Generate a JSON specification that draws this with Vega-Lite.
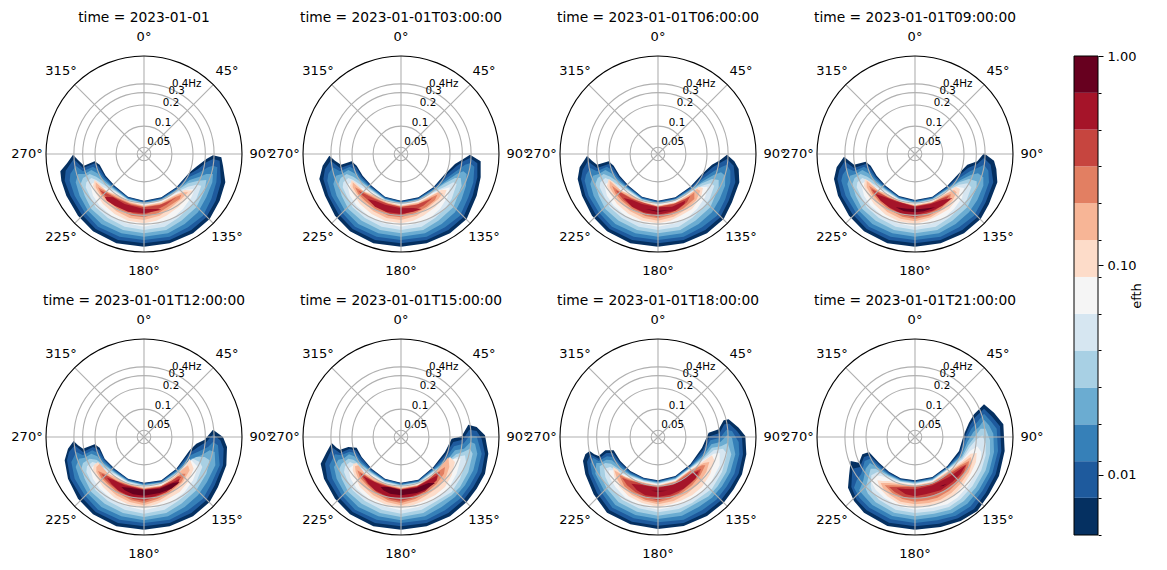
{"$schema":"https://vega.github.io/schema/vega-lite/v6.json","padding":{"left":11,"top":7,"right":0,"bottom":0},"spacing":29,"hconcat":[{"data":{"name":"contours","values":[
{"p":0,"l":0,"v":[[70,42],[85,58],[103,75],[135,62],[150,72],[168,105],[195,135],[235,168],[283,180],[335,170],[380,140],[420,95],[440,78],[470,55],[490,44],[515,50],[520,75],[527,125],[510,180],[480,235],[430,278],[360,308],[283,318],[200,308],[130,272],[85,225],[50,165],[35,120],[32,92],[52,68]]},
{"p":0,"l":1,"v":[[72,55],[100,82],[135,68],[148,78],[166,108],[195,138],[235,170],[283,182],[335,172],[380,142],[420,100],[445,85],[470,65],[490,55],[510,60],[514,125],[498,180],[470,230],[425,268],[360,298],[283,308],[205,298],[138,265],[95,220],[62,165],[45,120],[48,90]]},
{"p":0,"l":2,"v":[[78,75],[100,92],[130,78],[145,88],[164,112],[195,141],[235,172],[283,184],[335,174],[380,145],[420,108],[450,95],[475,80],[490,75],[503,80],[500,125],[485,175],[460,225],[415,260],[360,288],[283,298],[210,288],[145,258],[105,215],[75,165],[60,120],[62,100]]},
{"p":0,"l":3,"v":[[85,100],[105,100],[125,88],[143,98],[162,117],[195,144],[235,174],[283,186],[335,176],[380,148],[420,118],[450,108],[470,100],[490,100],[488,125],[470,170],[445,215],[405,250],[355,278],[283,288],[215,278],[155,250],[115,210],[90,165],[78,125]]},
{"p":0,"l":4,"v":[[100,112],[120,100],[140,108],[160,122],[195,147],[235,176],[283,188],[335,178],[380,151],[415,128],[445,120],[470,118],[465,150],[440,200],[395,240],[350,268],[283,278],[220,268],[165,240],[125,205],[105,165],[93,130]]},
{"p":0,"l":5,"v":[[110,125],[125,112],[140,118],[158,130],[195,150],[235,178],[283,190],[335,180],[380,154],[415,138],[440,132],[455,135],[440,175],[415,205],[385,232],[345,258],[283,268],[225,258],[175,232],[138,200],[120,165],[108,140]]},
{"p":0,"l":6,"v":[[122,132],[135,124],[155,138],[195,153],[235,180],[283,192],[335,182],[380,157],[410,147],[435,145],[425,170],[400,205],[370,232],[335,248],[283,258],[230,248],[185,225],[150,195],[130,165]]},
{"p":0,"l":7,"v":[[135,118],[150,130],[170,150],[200,160],[240,182],[283,194],[335,184],[380,160],[405,148],[430,150],[410,175],[385,200],[350,225],[320,240],[283,248],[235,240],[195,220],[160,190],[140,160],[130,135]]},
{"p":0,"l":8,"v":[[138,125],[155,140],[175,155],[205,165],[240,185],[283,196],[335,186],[375,165],[400,155],[415,155],[395,175],[365,200],[330,225],[283,238],[240,232],[200,212],[170,185],[150,160],[138,140]]},
{"p":0,"l":9,"v":[[145,140],[165,150],[200,170],[240,188],[283,198],[335,190],[375,170],[395,162],[390,175],[360,195],[325,218],[283,230],[245,225],[205,205],[175,180],[155,160]]},
{"p":0,"l":10,"v":[[150,148],[175,160],[205,175],[245,192],[283,200],[330,193],[365,178],[380,170],[350,192],[320,208],[283,222],[250,218],[210,200],[180,175],[160,160]]},
{"p":0,"l":11,"v":[[165,168],[190,170],[225,190],[283,205],[325,205],[335,207],[315,212],[283,218],[235,213],[195,195],[172,180]]},

{"p":1,"l":0,"v":[[68,45],[85,60],[103,72],[135,62],[150,75],[168,105],[195,135],[235,168],[283,180],[335,170],[380,140],[415,100],[445,70],[470,55],[490,42],[522,62],[522,110],[510,165],[480,235],[430,278],[360,308],[283,318],[200,308],[130,272],[85,225],[55,165],[38,115],[48,75]]},
{"p":1,"l":1,"v":[[72,60],[100,82],[135,70],[148,80],[166,108],[195,138],[235,170],[283,182],[335,172],[380,142],[417,105],[447,78],[470,62],[490,52],[512,68],[512,110],[498,165],[470,230],[425,268],[360,298],[283,308],[205,298],[138,265],[95,220],[65,165],[50,115],[55,85]]},
{"p":1,"l":2,"v":[[78,80],[100,92],[130,78],[145,88],[164,112],[195,141],[235,172],[283,184],[335,174],[380,145],[420,112],[450,90],[475,72],[490,68],[503,78],[500,125],[485,170],[460,225],[415,260],[360,288],[283,298],[210,288],[145,258],[105,215],[75,165],[62,120],[65,100]]},
{"p":1,"l":3,"v":[[88,105],[105,100],[125,88],[143,98],[162,117],[195,144],[235,174],[283,186],[335,176],[380,148],[420,120],[450,100],[470,92],[480,100],[478,135],[465,175],[445,215],[405,250],[355,278],[283,288],[215,278],[155,250],[115,210],[90,165],[80,130]]},
{"p":1,"l":4,"v":[[102,112],[120,100],[140,108],[160,122],[195,147],[235,176],[283,188],[335,178],[380,151],[415,128],[445,112],[462,112],[465,135],[440,200],[395,240],[350,268],[283,278],[220,268],[165,240],[125,205],[105,165],[95,130]]},
{"p":1,"l":5,"v":[[110,125],[125,112],[140,118],[158,130],[195,150],[235,178],[283,190],[335,180],[380,154],[415,138],[440,125],[450,130],[435,175],[415,205],[385,232],[345,258],[283,268],[225,258],[175,232],[138,200],[120,165],[108,140]]},
{"p":1,"l":6,"v":[[122,132],[135,124],[155,138],[195,153],[235,180],[283,192],[335,182],[380,157],[410,145],[430,140],[422,170],[400,205],[370,232],[335,248],[283,258],[230,248],[185,225],[150,195],[130,165]]},
{"p":1,"l":7,"v":[[135,118],[150,130],[170,150],[200,160],[240,182],[283,194],[335,184],[380,160],[405,147],[420,148],[410,175],[385,200],[350,225],[320,240],[283,248],[235,240],[195,220],[160,190],[140,160],[130,135]]},
{"p":1,"l":8,"v":[[138,125],[155,140],[175,155],[205,165],[240,185],[283,196],[335,186],[375,165],[395,155],[408,158],[395,175],[365,200],[330,225],[283,238],[240,232],[200,212],[170,185],[150,160],[138,140]]},
{"p":1,"l":9,"v":[[145,140],[165,150],[200,170],[240,188],[283,198],[335,190],[375,170],[392,162],[385,178],[360,198],[325,218],[283,230],[245,225],[205,205],[175,180],[155,160]]},
{"p":1,"l":10,"v":[[155,150],[175,160],[205,175],[245,190],[283,199],[330,192],[365,178],[378,172],[350,195],[320,210],[283,224],[250,220],[210,200],[180,175],[165,162]]},
{"p":1,"l":11,"v":[[183,176],[205,180],[235,192],[283,203],[320,202],[345,205],[320,213],[283,220],[240,214],[205,198]]},

{"p":2,"l":0,"v":[[70,46],[85,60],[100,72],[135,62],[150,75],[168,105],[195,135],[235,168],[283,180],[335,170],[380,138],[415,100],[445,72],[470,58],[490,42],[512,62],[525,85],[527,125],[505,185],[480,235],[430,278],[360,308],[283,318],[200,308],[130,272],[85,225],[55,165],[42,115],[48,80]]},
{"p":2,"l":1,"v":[[72,62],[100,82],[135,70],[148,80],[166,108],[195,138],[235,170],[283,182],[335,172],[380,141],[417,105],[447,80],[470,66],[490,55],[510,75],[515,125],[495,180],[470,230],[425,268],[360,298],[283,308],[205,298],[138,265],[95,220],[65,165],[52,115],[57,88]]},
{"p":2,"l":2,"v":[[80,82],[100,92],[130,78],[145,88],[164,112],[195,141],[235,172],[283,184],[335,174],[380,144],[420,112],[450,92],[475,78],[490,72],[500,90],[500,125],[485,175],[460,225],[415,260],[360,288],[283,298],[210,288],[145,258],[105,215],[75,165],[63,120],[67,102]]},
{"p":2,"l":3,"v":[[88,105],[105,100],[125,88],[143,98],[162,117],[195,144],[235,174],[283,186],[335,176],[380,147],[420,120],[450,103],[472,95],[485,105],[484,135],[468,175],[445,215],[405,250],[355,278],[283,288],[215,278],[155,250],[115,210],[90,165],[80,130]]},
{"p":2,"l":4,"v":[[102,112],[120,100],[140,108],[160,122],[195,147],[235,176],[283,188],[335,178],[380,150],[415,128],[445,115],[465,118],[465,140],[440,200],[395,240],[350,268],[283,278],[220,268],[165,240],[125,205],[105,165],[95,130]]},
{"p":2,"l":5,"v":[[110,125],[125,112],[140,118],[158,130],[195,150],[235,178],[283,190],[335,180],[380,153],[415,135],[440,128],[452,135],[438,175],[415,205],[385,232],[345,258],[283,268],[225,258],[175,232],[138,200],[120,165],[108,140]]},
{"p":2,"l":6,"v":[[122,132],[135,124],[155,138],[195,153],[235,180],[283,192],[335,182],[380,156],[410,140],[432,138],[424,170],[400,205],[370,232],[335,248],[283,258],[230,248],[185,225],[150,195],[130,165]]},
{"p":2,"l":7,"v":[[135,115],[150,125],[170,148],[200,160],[240,182],[283,194],[335,184],[380,158],[405,138],[418,142],[412,170],[385,205],[350,225],[320,240],[283,248],[235,240],[195,220],[160,190],[140,160],[130,135]]},
{"p":2,"l":8,"v":[[138,120],[155,135],[175,152],[205,165],[240,185],[283,196],[335,186],[375,163],[400,145],[410,150],[398,178],[370,205],[330,228],[283,240],[240,232],[200,212],[170,185],[150,160],[138,140]]},
{"p":2,"l":9,"v":[[145,135],[165,150],[200,170],[240,188],[283,198],[335,188],[375,168],[392,155],[392,175],[360,203],[325,222],[283,233],[245,226],[205,205],[175,180],[155,158]]},
{"p":2,"l":10,"v":[[155,148],[175,158],[205,175],[245,188],[283,198],[330,190],[365,175],[380,165],[370,185],[345,205],[318,218],[283,228],[250,222],[210,202],[180,178],[165,160]]},
{"p":2,"l":11,"v":[[180,172],[205,178],[235,190],[283,200],[325,198],[365,180],[362,190],[335,210],[283,222],[240,215],[205,198]]},
{"p":2,"l":12,"v":[[245,205],[283,210],[320,208],[283,214]]},

{"p":3,"l":0,"v":[[70,48],[85,60],[100,72],[135,63],[150,75],[168,105],[195,135],[235,166],[283,178],[335,168],[380,135],[415,98],[440,72],[470,62],[490,38],[520,60],[527,85],[530,125],[505,190],[480,235],[430,278],[360,308],[283,318],[200,308],[130,272],[85,225],[52,165],[40,115],[48,80]]},
{"p":3,"l":1,"v":[[72,62],[100,82],[135,70],[148,80],[166,108],[195,138],[235,168],[283,180],[335,170],[380,138],[417,103],[442,82],[470,70],[490,52],[510,72],[518,125],[495,185],[470,230],[425,268],[360,298],[283,308],[205,298],[138,265],[95,220],[62,165],[50,115],[56,88]]},
{"p":3,"l":2,"v":[[80,82],[100,92],[130,78],[145,88],[164,112],[195,141],[235,170],[283,182],[335,172],[380,141],[420,110],[448,92],[475,80],[490,72],[503,90],[505,125],[485,180],[460,225],[415,260],[360,288],[283,298],[210,288],[145,258],[105,215],[75,165],[62,120],[66,102]]},
{"p":3,"l":3,"v":[[88,105],[105,100],[125,88],[143,98],[162,117],[195,144],[235,172],[283,184],[335,174],[380,144],[420,118],[450,103],[472,98],[488,110],[488,135],[470,178],[445,215],[405,250],[355,278],[283,288],[215,278],[155,250],[115,210],[90,165],[80,130]]},
{"p":3,"l":4,"v":[[102,112],[120,100],[140,108],[160,122],[195,147],[235,174],[283,186],[335,176],[380,147],[415,125],[445,115],[468,122],[468,142],[440,200],[395,240],[350,268],[283,278],[220,268],[165,240],[125,205],[105,165],[95,130]]},
{"p":3,"l":5,"v":[[110,125],[125,112],[140,118],[158,130],[195,150],[235,176],[283,188],[335,178],[380,150],[415,132],[440,128],[452,140],[438,178],[415,205],[385,232],[345,258],[283,268],[225,258],[175,232],[138,200],[120,165],[108,140]]},
{"p":3,"l":6,"v":[[122,130],[135,122],[155,136],[195,153],[235,178],[283,190],[335,180],[380,153],[408,138],[430,142],[424,172],[400,205],[370,232],[335,248],[283,258],[230,248],[185,225],[150,195],[130,165]]},
{"p":3,"l":7,"v":[[133,115],[150,125],[170,148],[200,160],[240,180],[283,192],[335,182],[380,155],[405,138],[418,145],[412,172],[385,205],[350,225],[320,240],[283,250],[235,242],[195,222],[160,190],[140,160],[130,135]]},
{"p":3,"l":8,"v":[[138,120],[155,135],[175,150],[205,163],[240,183],[283,194],[335,184],[375,160],[400,148],[408,155],[395,180],[370,205],[330,230],[283,242],[240,234],[200,214],[170,186],[150,160],[138,140]]},
{"p":3,"l":9,"v":[[145,135],[165,148],[200,168],[240,186],[283,196],[335,186],[375,165],[390,160],[388,178],[360,205],[325,225],[283,235],[245,228],[205,207],[175,182],[155,158]]},
{"p":3,"l":10,"v":[[152,145],[175,156],[205,172],[245,186],[283,197],[330,188],[365,173],[385,165],[370,188],[345,208],[318,220],[283,230],[250,224],[210,204],[178,178],[162,160]]},
{"p":3,"l":11,"v":[[165,160],[190,168],[225,182],[283,198],[330,190],[365,178],[395,172],[365,195],[335,210],[283,224],[240,218],[205,200],[180,180]]},
{"p":3,"l":12,"v":[[225,200],[260,204],[300,205],[345,200],[310,212],[283,215],[250,212]]},

{"p":4,"l":0,"v":[[72,52],[85,65],[100,75],[135,62],[150,72],[165,105],[195,135],[235,165],[283,177],[335,170],[380,135],[420,80],[440,60],[465,48],[490,18],[520,40],[532,70],[530,125],[505,190],[480,235],[430,278],[360,308],[283,318],[200,308],[130,272],[85,225],[55,165],[45,110],[55,75]]},
{"p":4,"l":1,"v":[[75,65],[100,85],[130,70],[148,78],[165,108],[195,138],[235,167],[283,179],[335,172],[380,138],[420,88],[445,70],[470,55],[490,32],[512,50],[522,75],[520,125],[495,185],[470,230],[425,268],[360,298],[283,308],[205,298],[138,265],[95,220],[62,165],[52,110],[58,85]]},
{"p":4,"l":2,"v":[[80,85],[100,95],[128,80],[145,88],[163,112],[195,141],[235,169],[283,181],[335,174],[380,141],[422,95],[450,82],[475,70],[490,55],[505,65],[510,125],[485,180],[460,225],[415,260],[360,288],[283,298],[210,288],[145,258],[105,215],[75,165],[65,115]]},
{"p":4,"l":3,"v":[[88,105],[105,102],[125,90],[143,98],[161,117],[195,144],[235,171],[283,183],[335,176],[380,144],[425,105],[455,95],[480,80],[495,85],[497,125],[472,175],[445,215],[405,250],[355,278],[283,290],[215,278],[155,250],[115,210],[90,165],[78,130]]},
{"p":4,"l":4,"v":[[100,118],[120,105],[140,108],[160,122],[195,147],[235,173],[283,185],[335,178],[380,147],[420,112],[440,100],[465,100],[480,110],[470,150],[440,200],[395,240],[350,268],[283,280],[220,268],[165,240],[125,205],[105,165],[95,135]]},
{"p":4,"l":5,"v":[[112,128],[128,115],[140,118],[158,130],[195,150],[235,175],[283,187],[335,180],[380,150],[415,115],[430,105],[450,115],[458,130],[440,175],[415,208],[385,232],[345,258],[283,270],[225,258],[175,232],[138,200],[120,165],[110,145]]},
{"p":4,"l":6,"v":[[122,135],[135,124],[155,138],[195,153],[235,177],[283,189],[335,182],[380,153],[410,125],[425,110],[445,130],[430,170],[405,205],[370,232],[335,248],[283,260],[230,248],[185,225],[150,195],[130,165]]},
{"p":4,"l":7,"v":[[132,125],[145,115],[170,145],[200,160],[240,180],[283,191],[335,184],[380,155],[405,130],[420,105],[432,135],[415,175],[390,205],[350,228],[320,242],[283,252],[235,242],[195,222],[160,190],[140,160],[130,140]]},
{"p":4,"l":8,"v":[[140,130],[150,120],[175,150],[205,165],[240,182],[283,193],[335,186],[375,160],[400,135],[415,125],[420,140],[400,175],[370,205],[330,230],[283,245],[240,235],[200,215],[170,188],[150,162],[140,145]]},
{"p":4,"l":9,"v":[[145,142],[165,150],[200,170],[240,185],[283,195],[335,188],[375,165],[395,150],[408,150],[395,175],[360,205],[325,225],[283,238],[245,230],[205,208],[175,182],[155,162]]},
{"p":4,"l":10,"v":[[155,150],[175,158],[205,175],[245,188],[283,197],[330,190],[365,172],[385,158],[395,160],[375,185],[350,205],[320,220],[283,232],[250,226],[210,205],[180,180],[165,165]]},
{"p":4,"l":11,"v":[[172,162],[190,168],[225,185],[283,198],[330,192],[370,175],[390,165],[385,180],[350,205],[315,218],[283,225],[240,218],[205,200],[185,180]]},
{"p":4,"l":12,"v":[[215,190],[240,192],[283,199],[330,195],[370,178],[390,175],[365,195],[330,208],[283,216],[250,212],[225,200]]},

{"p":5,"l":0,"v":[[75,58],[90,72],[100,78],[125,70],[150,72],[165,100],[195,135],[235,165],[283,177],[335,168],[380,130],[415,85],[435,45],[465,38],[485,3],[510,10],[535,35],[545,90],[535,150],[510,195],[480,235],[430,278],[360,308],[283,318],[200,308],[130,272],[85,225],[52,165],[42,120],[60,85]]},
{"p":5,"l":1,"v":[[78,72],[100,88],[128,76],[147,80],[165,104],[195,138],[235,167],[283,179],[335,170],[380,133],[417,92],[440,55],[468,48],[488,18],[510,22],[525,45],[535,90],[525,145],[500,190],[470,230],[425,268],[360,298],[283,308],[205,298],[138,265],[95,220],[62,165],[55,120],[68,92]]},
{"p":5,"l":2,"v":[[85,92],[103,95],[128,84],[145,88],[163,112],[195,141],[235,169],[283,181],[335,172],[380,136],[420,100],[442,68],[470,60],[490,35],[510,38],[525,90],[512,145],[490,185],[460,225],[415,260],[360,288],[283,298],[210,288],[145,258],[105,215],[77,165],[68,125]]},
{"p":5,"l":3,"v":[[95,108],[110,105],[127,92],[143,98],[161,117],[195,144],[235,171],[283,183],[335,174],[380,139],[422,108],[445,80],[472,75],[492,55],[505,60],[512,90],[500,140],[475,185],[445,220],[405,250],[355,278],[283,290],[215,278],[155,250],[115,210],[90,165],[82,130]]},
{"p":5,"l":4,"v":[[105,120],[125,105],[140,108],[160,122],[195,147],[235,173],[283,185],[335,176],[380,142],[425,112],[448,92],[470,85],[490,75],[498,90],[485,145],[460,190],[435,215],[395,240],[350,268],[283,280],[220,268],[165,240],[125,205],[105,165],[98,135]]},
{"p":5,"l":5,"v":[[115,128],[130,115],[142,120],[158,130],[195,150],[235,175],[283,187],[335,178],[380,145],[425,115],[450,100],[475,95],[478,115],[460,165],[435,205],[385,235],[345,258],[283,270],[225,258],[175,232],[138,200],[120,165],[112,145]]},
{"p":5,"l":6,"v":[[125,135],[140,125],[155,138],[195,153],[235,177],[283,189],[335,180],[380,148],[420,115],[445,105],[462,105],[450,150],[425,195],[380,230],[335,250],[283,260],[230,248],[185,225],[150,195],[132,165]]},
{"p":5,"l":7,"v":[[140,120],[150,118],[170,145],[200,160],[240,180],[283,191],[335,182],[380,150],[415,115],[430,100],[445,115],[435,155],[415,190],[385,215],[350,232],[320,244],[283,252],[235,242],[195,222],[160,190],[145,160],[138,140]]},
{"p":5,"l":8,"v":[[145,128],[155,125],[175,150],[205,165],[240,182],[283,193],[335,184],[375,155],[405,125],[425,100],[428,130],[418,160],[395,190],[360,215],[330,232],[283,245],[240,235],[200,215],[170,188],[155,165],[147,145]]},
{"p":5,"l":9,"v":[[152,140],[170,150],[200,170],[240,185],[283,195],[335,186],[375,160],[400,140],[415,130],[412,150],[390,180],[355,210],[325,226],[283,238],[245,230],[205,208],[178,182],[160,162]]},
{"p":5,"l":10,"v":[[160,148],[178,158],[205,175],[245,188],[283,197],[330,188],[365,168],[385,150],[400,145],[390,170],[355,203],[320,222],[283,232],[250,226],[210,205],[182,180],[168,162]]},
{"p":5,"l":11,"v":[[170,158],[190,168],[225,185],[283,198],[330,190],[365,170],[392,155],[390,170],[355,203],[315,218],[283,225],[240,218],[205,200],[185,180]]},
{"p":5,"l":12,"v":[[222,190],[245,190],[283,199],[330,192],[365,178],[385,178],[355,198],[330,208],[283,215],[250,210],[230,200]]},

{"p":6,"l":0,"v":[[78,82],[92,92],[105,97],[125,80],[150,80],[170,112],[200,142],[240,162],[283,170],[335,157],[380,122],[415,72],[435,27],[465,17],[480,-10],[495,-13],[525,12],[545,37],[548,92],[535,152],[510,197],[480,237],[430,277],[360,307],[283,316],[200,302],[130,267],[90,212],[65,152],[58,112],[65,92]]},
{"p":6,"l":1,"v":[[80,92],[105,105],[128,88],[148,88],[168,115],[200,145],[240,164],[283,172],[335,159],[380,125],[417,80],[438,38],[468,28],[482,2],[497,0],[520,22],[535,42],[538,92],[525,150],[500,192],[470,232],[425,268],[360,298],[283,306],[205,294],[138,260],[100,208],[75,150],[70,115]]},
{"p":6,"l":2,"v":[[88,102],[105,112],[130,98],[147,100],[166,120],[200,148],[240,166],[283,174],[335,161],[380,128],[420,88],[440,50],[470,42],[488,18],[505,22],[525,55],[527,92],[512,150],[488,190],[458,228],[415,260],[360,288],[283,296],[210,284],[146,252],[110,202],[85,150],[80,120]]},
{"p":6,"l":3,"v":[[98,118],[110,118],[128,108],[145,110],[165,128],[200,152],[240,168],[283,176],[335,163],[380,130],[420,95],[443,62],[470,55],[490,35],[505,42],[515,92],[500,145],[475,188],[445,222],[405,250],[355,276],[283,286],[215,274],[155,244],[120,198],[95,150]]},
{"p":6,"l":4,"v":[[108,128],[125,118],[142,120],[165,135],[200,155],[240,170],[283,178],[335,165],[380,132],[420,100],[445,72],[472,68],[492,58],[503,92],[488,145],[462,188],[435,218],[395,240],[350,266],[283,276],[220,264],[165,236],[130,195],[110,155]]},
{"p":6,"l":5,"v":[[122,135],[140,130],[160,142],[200,158],[240,172],[283,180],[335,167],[380,134],[420,105],[450,80],[478,75],[490,90],[475,145],[445,195],[385,238],[345,256],[283,266],[225,254],[175,228],[140,190],[125,160]]},
{"p":6,"l":6,"v":[[135,140],[152,140],[175,152],[205,162],[240,174],[283,182],[335,169],[380,136],[420,110],[450,90],[468,88],[468,125],[445,170],[415,205],[375,232],[335,248],[283,258],[230,246],[185,222],[155,190],[140,165]]},
{"p":6,"l":7,"v":[[148,130],[162,138],[175,155],[205,165],[240,176],[283,184],[335,171],[380,138],[420,112],[445,95],[452,110],[440,150],[415,190],[385,215],[350,232],[320,242],[283,250],[235,238],[195,218],[168,190],[152,160]]},
{"p":6,"l":8,"v":[[152,140],[170,150],[185,160],[210,168],[245,178],[283,186],[335,173],[380,140],[420,118],[437,115],[428,145],[405,180],[370,210],[330,232],[283,242],[240,232],[205,214],[175,190],[160,165]]},
{"p":6,"l":9,"v":[[165,152],[185,162],[210,172],[245,180],[283,188],[335,175],[380,142],[415,125],[425,125],[410,155],[385,185],[350,212],[320,226],[283,236],[245,228],[210,210],[182,188]]},
{"p":6,"l":10,"v":[[175,162],[195,170],[220,176],[250,183],[283,190],[335,178],[380,148],[412,135],[405,155],[380,180],[345,208],[318,220],[283,230],[250,222],[215,205],[190,185]]},
{"p":6,"l":11,"v":[[203,180],[230,183],[283,192],[330,183],[375,155],[405,142],[395,165],[360,195],[320,213],[283,220],[245,215],[220,200]]},
{"p":6,"l":12,"v":[[262,201],[283,201],[312,201],[283,204]]},

{"p":7,"l":0,"v":[[90,112],[115,117],[125,92],[145,85],[175,117],[205,144],[240,164],[283,170],[335,160],[380,127],[415,82],[430,32],[445,-3],[460,-28],[490,-58],[520,-33],[548,2],[552,82],[535,157],[505,212],[470,262],[420,292],[360,310],[283,318],[200,307],[130,267],[100,232],[82,192],[85,157]]},
{"p":7,"l":1,"v":[[95,135],[118,130],[130,100],[147,95],[175,122],[205,147],[240,166],[283,172],[335,162],[380,130],[417,88],[433,38],[448,5],[462,-18],[490,-45],[515,-20],[538,8],[542,82],[525,152],[495,208],[460,256],[412,284],[355,300],[283,308],[205,297],[138,260],[108,228],[92,190]]},
{"p":7,"l":2,"v":[[108,170],[122,150],[132,112],[148,105],[175,128],[205,150],[240,168],[283,174],[335,164],[380,132],[420,92],[436,45],[452,15],[470,-5],[490,-30],[510,-8],[528,15],[532,82],[515,148],[485,202],[450,248],[405,276],[350,290],[283,298],[210,287],[146,252],[116,222],[100,192]]},
{"p":7,"l":3,"v":[[118,195],[128,170],[135,135],[148,118],[175,134],[205,153],[240,170],[283,176],[335,166],[380,134],[422,96],[440,55],[458,25],[475,10],[490,-12],[505,5],[518,30],[520,85],[505,145],[475,198],[440,240],[395,268],[345,280],[283,288],[215,277],[155,244],[128,215],[115,200]]},
{"p":7,"l":4,"v":[[135,195],[142,165],[150,135],[165,135],[205,156],[240,172],[283,178],[335,168],[380,136],[424,100],[443,65],[462,40],[480,15],[495,15],[508,50],[508,90],[495,140],[465,192],[430,232],[390,258],[340,270],[283,278],[220,267],[165,236],[142,210]]},
{"p":7,"l":5,"v":[[150,190],[152,155],[170,145],[205,160],[240,174],[283,180],[335,170],[380,138],[425,105],[446,72],[465,50],[485,35],[495,60],[495,95],[482,140],[455,188],[420,226],[385,250],[340,262],[283,268],[225,258],[175,228],[155,205]]},
{"p":7,"l":6,"v":[[152,175],[165,155],[185,158],[212,168],[240,176],[283,182],[335,172],[380,140],[425,110],[448,82],[470,68],[482,85],[480,110],[465,150],[440,190],[410,222],[380,242],[335,252],[283,258],[232,248],[190,222],[165,198]]},
{"p":7,"l":7,"v":[[170,170],[185,172],[205,172],[240,178],[283,184],[335,174],[380,143],[425,112],[450,90],[468,88],[466,115],[450,150],[428,185],[400,215],[370,235],[330,244],[283,250],[235,240],[200,218],[178,195]]},
{"p":7,"l":8,"v":[[180,178],[205,178],[240,182],[283,186],[335,176],[380,146],[425,118],[450,100],[455,115],[445,145],[420,180],[392,208],[360,228],[325,238],[283,242],[240,234],[208,214],[188,195]]},
{"p":7,"l":9,"v":[[192,185],[215,185],[245,186],[283,188],[335,178],[380,150],[420,125],[445,112],[442,135],[418,170],[385,202],[350,222],[320,230],[283,234],[245,226],[215,208]]},
{"p":7,"l":10,"v":[[205,190],[230,190],[283,191],[335,180],[380,155],[420,130],[438,122],[430,145],[405,175],[375,198],[340,215],[283,226],[250,220],[222,205]]},
{"p":7,"l":11,"v":[[228,194],[255,196],[283,197],[335,185],[385,160],[425,132],[435,125],[420,150],[395,175],[360,200],[315,212],[283,218],[255,212]]},
{"p":7,"l":12,"v":[[358,188],[368,184],[378,180],[368,187]]}
]},"transform":[{"flatten":["v"]}],"facet":{"field":"p","type":"ordinal","title":null,"header":{"labelFont":"DejaVu Sans","labelFontSize":13.8,"labelColor":"black","labelPadding":-8,"labelBaseline":"bottom","labelExpr":"'time = 2023-01-01' + ['','T03:00:00','T06:00:00','T09:00:00','T12:00:00','T15:00:00','T18:00:00','T21:00:00'][datum.value]"}},"columns":4,"spacing":{"column":61,"row":87},"bounds":"flush","spec":{"width":196,"height":196,"view":{"stroke":null},"layer":[
{"mark":{"type":"line","strokeWidth":0},"encoding":{"x":{"field":"v[0]","type":"quantitative","scale":{"domain":[-11,577],"nice":false,"zero":false},"axis":null},"y":{"field":"v[1]","type":"quantitative","scale":{"domain":[-254,334],"reverse":true,"nice":false,"zero":false},"axis":null},"fill":{"field":"l","type":"ordinal","scale":{"domain":[0,1,2,3,4,5,6,7,8,9,10,11,12],"range":["#053061","#1e5a9d","#3680b8","#6bacd1","#a8d0e4","#d6e6f1","#f5f5f5","#fddcc9","#f7b596","#e27f62","#c6453f","#a51429","#67001f"]},"legend":null},"order":{"value":null}}},
{"data":{"values":[{"f":0.05},{"f":0.1},{"f":0.2},{"f":0.3},{"f":0.4}]},"mark":{"type":"arc","theta":0,"theta2":6.2832,"fill":null,"stroke":"#b0b0b0","strokeWidth":1.1},"encoding":{"radius":{"field":"f","type":"quantitative","stack":null,"scale":{"type":"log","domain":[0.04,1],"range":[0,98],"nice":false}}}},
{"data":{"values":[{"a":283,"b":40,"x":283,"y":-254},{"a":283,"b":40,"x":491,"y":-168},{"a":283,"b":40,"x":577,"y":40},{"a":283,"b":40,"x":491,"y":248},{"a":283,"b":40,"x":283,"y":334},{"a":283,"b":40,"x":75,"y":248},{"a":283,"b":40,"x":-11,"y":40},{"a":283,"b":40,"x":75,"y":-168}]},"mark":{"type":"rule","stroke":"#b0b0b0","strokeWidth":1.1},"encoding":{"x":{"field":"a","type":"quantitative"},"y":{"field":"b","type":"quantitative"},"x2":{"field":"x"},"y2":{"field":"y"}}},
{"data":{"values":[{"f":1}]},"mark":{"type":"arc","theta":0,"theta2":6.2832,"fill":null,"stroke":"black","strokeWidth":1.1},"encoding":{"radius":{"field":"f","type":"quantitative","stack":null,"scale":{"type":"log","domain":[0.04,1],"range":[0,98],"nice":false}}}},
{"data":{"values":[{"x":283,"y":-311,"t":"0°"},{"x":532,"y":-209,"t":"45°"},{"x":634,"y":40,"t":"90°"},{"x":532,"y":289,"t":"135°"},{"x":283,"y":391,"t":"180°"},{"x":34,"y":289,"t":"225°"},{"x":-68,"y":40,"t":"270°"},{"x":34,"y":-209,"t":"315°"}]},"mark":{"type":"text","font":"DejaVu Sans","fontSize":13,"color":"black"},"encoding":{"x":{"field":"x","type":"quantitative"},"y":{"field":"y","type":"quantitative"},"text":{"field":"t"}}},
{"data":{"values":[{"x":411,"y":-170,"t":"0.4Hz"},{"x":381,"y":-148,"t":"0.3"},{"x":364,"y":-113,"t":"0.2"},{"x":340,"y":-53,"t":"0.1"},{"x":327,"y":3,"t":"0.05"}]},"mark":{"type":"text","font":"DejaVu Sans","fontSize":10.3,"color":"black"},"encoding":{"x":{"field":"x","type":"quantitative"},"y":{"field":"y","type":"quantitative"},"text":{"field":"t"}}}
]}},
{"width":24,"height":479,"view":{"stroke":null},"data":{"values":[{"l":0,"lo":0.00515,"hi":0.00775},{"l":1,"lo":0.00775,"hi":0.0116},{"l":2,"lo":0.0116,"hi":0.0174},{"l":3,"lo":0.0174,"hi":0.0261},{"l":4,"lo":0.0261,"hi":0.0392},{"l":5,"lo":0.0392,"hi":0.0587},{"l":6,"lo":0.0587,"hi":0.088},{"l":7,"lo":0.088,"hi":0.132},{"l":8,"lo":0.132,"hi":0.198},{"l":9,"lo":0.198,"hi":0.297},{"l":10,"lo":0.297,"hi":0.445},{"l":11,"lo":0.445,"hi":0.667},{"l":12,"lo":0.667,"hi":1}]},"layer":[{"mark":{"type":"rect"},"encoding":{"y":{"field":"lo","type":"quantitative","scale":{"type":"log","domain":[0.00515,1],"nice":false},"axis":{"orient":"right","title":"efth","titleFont":"DejaVu Sans","titleFontSize":13,"titleFontWeight":"normal","titleColor":"black","titlePadding":8,"titleAngle":270,"labelFont":"DejaVu Sans","labelFontSize":13,"labelColor":"black","labelPadding":4,"grid":false,"domain":false,"tickColor":"black","values":[0.00515,0.00775,0.01,0.0116,0.0174,0.0261,0.0392,0.0587,0.088,0.1,0.132,0.198,0.297,0.445,0.667,1],"labelExpr":"datum.value==1||datum.value==0.1||datum.value==0.01?format(datum.value,'.2f'):''","tickSize":{"condition":{"test":"datum.value==1||datum.value==0.1||datum.value==0.01","value":5},"value":3}}},"y2":{"field":"hi"},"fill":{"field":"l","type":"ordinal","scale":{"domain":[0,1,2,3,4,5,6,7,8,9,10,11,12],"range":["#053061","#1e5a9d","#3680b8","#6bacd1","#a8d0e4","#d6e6f1","#f5f5f5","#fddcc9","#f7b596","#e27f62","#c6453f","#a51429","#67001f"]},"legend":null}}},
{"data":{"values":[{"lo":0.00515,"hi":1}]},"mark":{"type":"rect","fill":null,"stroke":"black","strokeWidth":1},"encoding":{"y":{"field":"lo","type":"quantitative"},"y2":{"field":"hi"}}},
{"data":{"values":[{"lo":1.697}]},"mark":{"type":"rule","opacity":0},"encoding":{"y":{"field":"lo","type":"quantitative"}}}]}
]}
